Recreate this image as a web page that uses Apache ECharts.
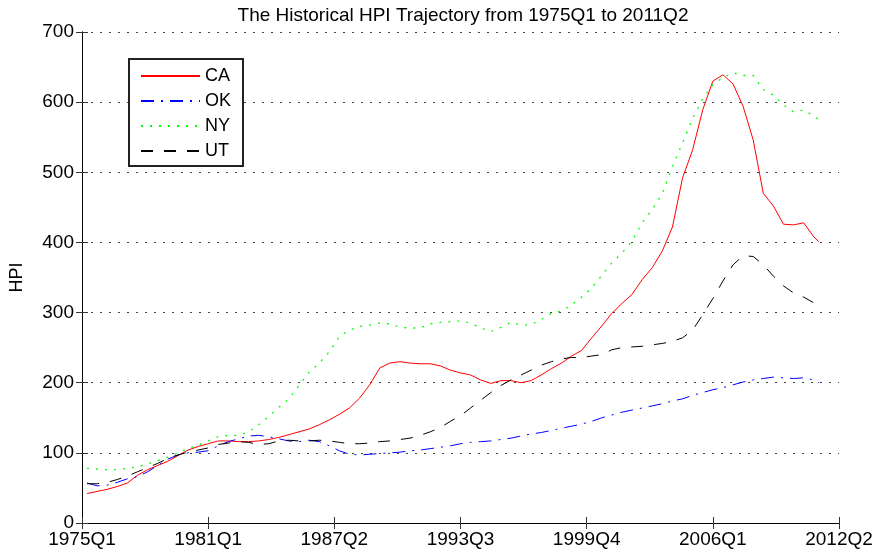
<!DOCTYPE html>
<html>
<head>
<meta charset="utf-8">
<script src="https://cdn.jsdelivr.net/npm/echarts@6/dist/echarts.min.js"></script>
<style>html,body{margin:0;padding:0;background:#fff}#c{width:877px;height:554px}</style>
</head>
<body>
<div id="c"></div>
<script>
// quarter index: 1 = 1975Q1 ... 146 = 2011Q2
var quarters = [1,3,5,7,9,11,13,15,17,19,21,23,25,27,29,31,33,35,37,39,41,43,45,47,49,51,53,55,57,59,61,63,65,67,69,71,73,75,77,79,81,83,85,87,89,91,93,95,97,99,101,103,105,107,109,111,113,115,117,119,121,123,125,127,129,131,133,135,137,139,141,143,145,146];
var tickLabels = ['1975Q1','1981Q1','1987Q2','1993Q3','1999Q4','2006Q1','2012Q2'];
var CA = [42,45,48,52,57,68,76,82,88,96,
          104,109,113,117,117,116,116,117,119,122,
          126,130,134,140,147,155,164,178,197,221,
          228,230,228,227,227,224,218,214,211,204,
          199,203,203,200,203,211,220,228,238,246,
          264,281,299,313,326,347,364,388,422,492,
          532,589,630,639,626,594,546,470,452,426,
          425,428,408,401];
var OK = [57,53,54,58,63,66,73,82,91,97,
          100,101,103,110,116,120,124,125,123,120,
          117,116,118,116,110,103,98,97,98,99,
          100,101,103,104,106,108,110,113,115,116,
          117,119,121,124,127,129,132,135,138,141,
          145,150,154,158,161,164,167,170,174,177,
          182,186,190,193,197,201,204,206,208,207,
          206,207,204,200];
var NY = [78,77,76,76,78,80,84,89,94,100,
          106,111,117,123,125,125,130,140,152,165,
          177,196,215,228,244,266,275,280,282,285,
          284,279,278,278,284,286,287,288,285,278,
          273,279,286,282,283,290,299,302,311,322,
          335,353,371,385,402,428,447,470,508,542,
          577,605,625,635,642,638,638,618,610,596,
          586,589,580,575];
var UT = [56,56,58,62,67,73,79,85,92,97,
          101,104,107,112,114,116,115,112,113,117,
          118,117,117,118,117,115,113,113,114,116,
          117,119,121,125,130,136,145,153,164,175,
          186,196,204,211,218,225,230,234,236,236,
          238,240,247,250,251,252,254,256,259,264,
          275,297,320,345,368,381,380,368,352,338,
          328,322,314,308];

function pairs(v){ return quarters.map(function(q,i){ return [q, v[i]]; }); }
var FONT = 'Liberation Sans, Arial, Helvetica, sans-serif';
var chart = echarts.init(document.getElementById('c'), null, {renderer:'canvas'});
var tickStyle = {show:true, inside:true, length:6, lineStyle:{color:'#333', width:1}};
chart.setOption({
  animation:false,
  backgroundColor:'#fff',
  title:{text:'The Historical HPI Trajectory from 1975Q1 to 2011Q2', left:458, textAlign:'center', top:1,
    textStyle:{fontFamily:FONT, fontSize:19, fontWeight:'normal', color:'#000'}},
  grid:{left:77, right:38, top:32, bottom:31, containLabel:false},
  legend:{orient:'vertical', left:129, top:59, itemWidth:59, itemHeight:14, itemGap:7,
    padding:[8,12,6,11], borderColor:'#222', borderWidth:2, backgroundColor:'#fff',
    itemStyle:{opacity:0},
    textStyle:{fontFamily:FONT, fontSize:18, color:'#000'},
    data:['CA','OK','NY','UT']},
  xAxis:[{type:'value', min:0, max:150, interval:25, position:'bottom',
      axisLine:{show:true, lineStyle:{color:'#000', width:1}},
      axisTick:tickStyle, splitLine:{show:false},
      axisLabel:{fontFamily:FONT, fontSize:19, color:'#000', margin:7, showMinLabel:true, showMaxLabel:true,
        formatter:function(v){ return tickLabels[Math.round(v/25)]; }}},
    {type:'value', min:0, max:150, interval:25, position:'top',
      axisLine:{show:true, lineStyle:{color:'#000', width:1}},
      axisTick:tickStyle, axisLabel:{show:false}, splitLine:{show:false}}],
  yAxis:[{type:'value', min:0, max:700, interval:100, position:'left',
      name:'HPI', nameLocation:'middle', nameGap:56, nameRotate:90,
      nameTextStyle:{fontFamily:FONT, fontSize:18, color:'#000'},
      axisLine:{show:true, lineStyle:{color:'#000', width:1}},
      axisTick:tickStyle,
      splitLine:{show:true, lineStyle:{color:'#444', width:1, type:[2,7]}},
      axisLabel:{fontFamily:FONT, fontSize:19, color:'#000', margin:8}},
    {type:'value', min:0, max:700, interval:100, position:'right',
      axisLine:{show:true, lineStyle:{color:'#000', width:1}},
      axisTick:tickStyle, axisLabel:{show:false}, splitLine:{show:false}}],
  series:[
    {name:'CA', type:'line', data:pairs(CA), symbol:'none', showSymbol:false, color:'#ff0000',
      lineStyle:{color:'#ff0000', width:1}},
    {name:'OK', type:'line', data:pairs(OK), symbol:'none', showSymbol:false, color:'#0000ff',
      lineStyle:{color:'#0000ff', width:1, type:[13,7,2,7]}},
    {name:'NY', type:'line', data:pairs(NY), symbol:'none', showSymbol:false, color:'#00ff00',
      lineStyle:{color:'#00ff00', width:1.3, type:[2,7]}},
    {name:'UT', type:'line', data:pairs(UT), symbol:'none', showSymbol:false, color:'#000000',
      lineStyle:{color:'#000000', width:1, type:[12,11]}}
  ]
});
</script>
</body>
</html>
